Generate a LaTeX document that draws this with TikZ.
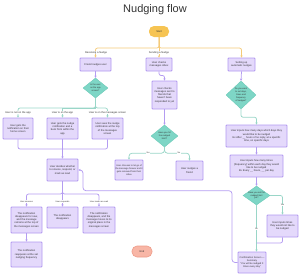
\documentclass[tikz,border=0pt]{standalone}
\usepackage{fontspec}
\setmainfont{Liberation Sans}
\usetikzlibrary{shapes.geometric,arrows.meta,calc}
\definecolor{boxfill}{HTML}{E4D9FB}
\definecolor{boxdraw}{HTML}{B198F0}
\definecolor{diafill}{HTML}{7ED6C6}
\definecolor{diadraw}{HTML}{6CCAB8}
\definecolor{tline}{HTML}{9AD6C8}
\definecolor{pline}{HTML}{B49CF1}
\definecolor{oline}{HTML}{F5CA78}
\definecolor{startfill}{HTML}{F6C453}
\definecolor{endfill}{HTML}{F8B6A6}
\definecolor{enddraw}{HTML}{EE9C89}
\definecolor{txt}{HTML}{333333}
\begin{document}
\begin{tikzpicture}[x=1pt,y=-1pt,
  box/.style={draw=boxdraw,fill=boxfill,line width=0.9pt,rounded corners=0.8pt,inner sep=0pt,align=center,font=\fontsize{2.6}{3.3}\selectfont,text=txt},
  dia/.style={diamond,draw=diadraw,fill=diafill,line width=0.4pt,inner sep=0pt},
  dtext/.style={align=center,font=\fontsize{2.2}{2.8}\selectfont,text=txt,inner sep=0pt},
  lbl/.style={fill=white,inner sep=0.4pt,font=\fontsize{2.6}{3}\selectfont,text=txt},
  slbl/.style={fill=white,inner sep=0.4pt,font=\fontsize{2.1}{2.5}\selectfont,text=txt},
  pl/.style={draw=pline,line width=0.75pt},
  tl/.style={draw=tline,line width=0.75pt},
  ol/.style={draw=oline,line width=0.75pt},
  arr/.style={-{Stealth[length=2.2pt,width=2.4pt]}},
  pill/.style={rounded corners=5pt,minimum width=20pt,minimum height=11pt,inner sep=0pt,font=\fontsize{2.6}{3}\selectfont,text=txt}
]
\useasboundingbox (0,0) rectangle (300,276);

\node[font=\fontsize{11}{13}\selectfont,text=txt] (title) at (155,9.5) {Nudging flow};

\node[pill,fill=startfill] (start) at (159,31.5) {Start};
\node[pill,fill=endfill,draw=enddraw,line width=0.6pt] (end) at (142,251.5) {End};

% row 1
\node[box,minimum width=31pt,minimum height=13pt] (friend) at (95.5,64.5) {Friend nudges user};
\node[box,minimum width=26pt,minimum height=13pt] (inbox) at (159,64.5) {User checks\\messages inbox};
\node[box,minimum width=27pt,minimum height=13pt] (setup) at (241.5,64.5) {Setting up\\automatic nudges};

% left column
\node[dia,minimum width=25pt,minimum height=20pt] (d1) at (95.5,88) {};
\node[dtext] (d1t) at (d1) {Is the user\\on the app\\screen?};
\node[box,minimum width=30pt,minimum height=21pt] (b1) at (18,128.5) {User gets the\\notification on their\\home screen};
\node[box,minimum width=31pt,minimum height=21pt] (b2) at (62.5,128.5) {User gets the nudge\\notification and a\\buzz from within the\\app};
\node[box,minimum width=31pt,minimum height=21pt] (b3) at (107.5,128.5) {User sees the nudge\\notification at the top\\of the messages\\screen};
\node[box,minimum width=31pt,minimum height=22pt] (decide) at (62.5,170) {User decides whether\\to snooze, respond, or\\mark as read};
\node[box,minimum width=31pt,minimum height=26pt] (s1) at (26.5,220) {The notification\\disappears for now,\\and the message\\remains at the top of\\the messages screen};
\node[box,minimum width=31pt,minimum height=21pt] (s2) at (62.5,217.5) {The notification\\disappears};
\node[box,minimum width=32pt,minimum height=26pt] (s3) at (99,220) {The notification\\disappears, and the\\message moves to its\\original place in the\\messages screen};
\node[box,minimum width=31pt,minimum height=25pt] (s1b) at (26.5,254.5) {The notification\\reappears at the set\\nudging frequency};

% middle column
\node[box,minimum width=25pt,minimum height=28pt] (checks) at (164.5,95) {User checks\\messages sent to\\friends that\\haven't been\\responded to yet};
\node[dia,minimum width=27pt,minimum height=22pt] (d2) at (164.5,136) {};
\node[dtext] (d2t) at (d2) {Have you hit\\the nudged\\limit?};
\node[box,minimum width=28pt,minimum height=20pt,font=\fontsize{2.3}{3.1}\selectfont] (letgo) at (129,170) {User chooses to let go of\\the message forever and it\\gets removed from their\\inbox};
\node[box,minimum width=27pt,minimum height=19pt] (nudge) at (189.5,170.5) {User nudges a\\friend};

% right column
\node[dia,minimum width=30pt,minimum height=28pt] (d3) at (241,95) {};
\node[dtext] (d3t) at (d3) {Do you want\\to set days,\\times and\\frequency\\of nudges?};
\node[box,minimum width=61pt,minimum height=22pt] (in1) at (256.5,136) {User inputs how many days which days they\\would like to be nudged\\Ex After \_\_ hours of no reply, at a specific\\time, on specific days};
\node[box,minimum width=53pt,minimum height=22pt] (in2) at (256.5,166) {User inputs how many times\\(frequency) within each day they would\\like to be nudged\\Ex Every \_\_ hours, \_\_ per day};
\node[dia,minimum width=27pt,minimum height=19pt] (d4) at (256.5,195.5) {};
\node[dtext] (d4t) at (d4) {Have you set the\\nudged limit\\yet?};
\node[box,minimum width=31pt,minimum height=22pt] (notimes) at (282.5,226) {User inputs times\\they would not like to\\be nudged};
\node[box,minimum width=28pt,minimum height=21pt,font=\fontsize{2.4}{3.2}\selectfont] (confirm) at (252,262.5) {Confirmation Screen —\\Summary\\“You will be nudged X\\times every day”};

% coordinates
\coordinate (j0) at (95.5,108);
\coordinate (j1) at (62.5,149);
\coordinate (j2) at (62.5,194);
\coordinate (jm) at (256.5,243);

% orange connectors
\draw[ol,arr,rounded corners=2pt] (start.south) -- (159,48) -| (friend.north);
\draw[ol,arr,rounded corners=2pt] (start.south) -- (159,48) -| (setup.north);
\draw[ol,arr] (start.south) -- (inbox.north);

% left connectors
\draw[pl,arr] (friend.south) -- (d1.north);
\draw[tl,arr,rounded corners=2pt] (d1.south) -- (j0) -| (b1.north);
\draw[tl,arr] (d1.south) -- (j0) -| (b2.north);
\draw[tl,arr,rounded corners=2pt] (d1.south) -- (j0) -| (b3.north);
\draw[pl,rounded corners=2pt] (b1.south) |- (j1);
\draw[pl,rounded corners=2pt] (b3.south) |- (j1);
\draw[pl,arr] (b2.south) -- (decide.north);
\draw[pl,arr,rounded corners=2pt] (decide.south) -- (j2) -| (s1.north);
\draw[pl,arr,rounded corners=2pt] (decide.south) -- (j2) -| (s3.north);
\draw[pl,arr] (decide.south) -- (s2.north);
\draw[pl,arr] (s1.south) -- (s1b.north);

% middle connectors
\draw[pl,arr,rounded corners=2pt] (inbox.south) -- ++(0,4) -| (checks.north);
\draw[pl,arr] (checks.south) -- (d2.north);
\draw[tl,arr,rounded corners=3pt] (d2.south) -- ++(0,6) -| (letgo.north);
\draw[tl,arr,rounded corners=3pt] (d2.south) -- ++(0,6) -| (nudge.north);

% right connectors
\draw[pl,arr] (setup.south) -- (d3.north);
\draw[tl,arr,rounded corners=2pt] (d3.south) -- ++(0,8) -| (in1.north);
\draw[pl,arr] (in1.south) -- (in2.north);
\draw[pl,arr] (in2.south) -- (d4.north);
\draw[tl,arr,rounded corners=2pt] (d4.east) -| (notimes.north);
\draw[tl,arr] (d4.south) -- (d4.south |- confirm.north);
\draw[pl,rounded corners=2pt] (notimes.south) |- (jm);
\draw[pl,arr,rounded corners=3pt] (confirm.west) -| (232,190.7) -| (83,170) -- (decide.east);

% labels
\node[lbl] (lrecv) at (96,52.5) {Receiving a Nudge};
\node[lbl] (lsend) at (159,52.5) {Sending a Nudge};
\node[lbl] (lnot) at (18,112.5) {User is not on the app};
\node[lbl] (lon) at (62.5,112.5) {User is on the app};
\node[lbl] (lmsg) at (107.5,112.5) {User is on the messages screen};
\node[slbl] (lsnz) at (26.5,201.5) {User snoozes};
\node[slbl] (lresp) at (62.5,201.5) {User responds};
\node[slbl] (lread) at (99,201.5) {User marks as read};
\node[slbl] (lyes1) at (148,153) {Yes};
\node[slbl] (lno1) at (179,153) {No};
\node[slbl] (lyes2) at (282.5,205) {Yes};
\node[slbl] (lno2) at (256.5,229) {No};
\end{tikzpicture}
\end{document}
